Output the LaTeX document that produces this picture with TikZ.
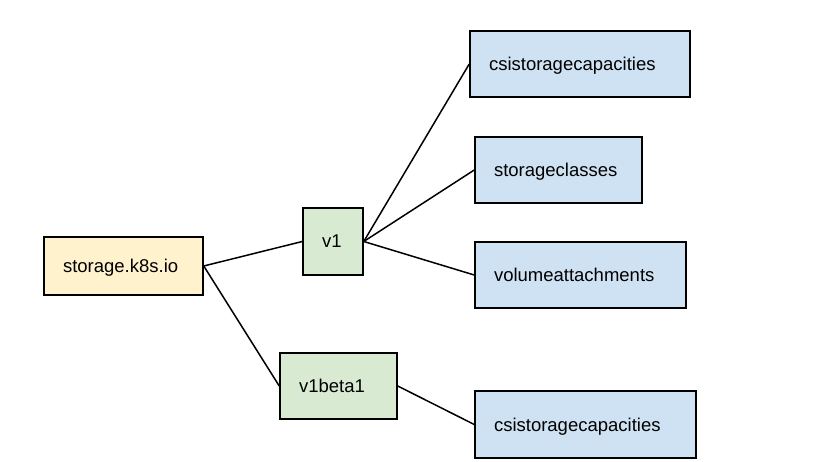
\documentclass[tikz,border=0pt]{standalone}
\usepackage{fontspec}
\setmainfont{Liberation Sans}
\usetikzlibrary{positioning}
\definecolor{grpyellow}{HTML}{FFF2CC}
\definecolor{vergreen}{HTML}{D9EAD3}
\definecolor{resblue}{HTML}{CFE2F3}
\tikzstyle{box}=[draw,rectangle,line width=1.5pt,inner xsep=19pt,inner ysep=0pt,align=left,
                text depth=0pt,font=\fontsize{18.5}{22}\selectfont]
\tikzstyle{grp}=[box,fill=grpyellow]
\tikzstyle{ver}=[box,fill=vergreen]
\tikzstyle{res}=[box,fill=resblue]
\tikzstyle{tree}=[every edge/.style={draw,line width=1.5pt}]
% #1 style, #2 name, #3 centre, #4 text width, #5 height, #6 label
\newcommand{\bx}[6]{\node[#1,text width=#4pt,minimum height=#5pt] (#2) at (#3) {#6};}

\begin{document}
\begin{tikzpicture}[x=1pt,y=-1pt,tree]
  \useasboundingbox (0,0) rectangle (837,462);

	\bx{grp}{api}{123.5,266}{121}{58}{storage.k8s.io};
	\bx{ver}{v1}{333,241.5}{22}{67}{v1};
	\bx{ver}{v1b}{338.5,386}{79}{66}{v1beta1};
	\bx{res}{csia}{580,64}{182}{66}{csistoragecapacities};
	\bx{res}{sc}{558.5,170}{129}{66}{storageclasses};
	\bx{res}{va}{580.5,275}{173}{66}{volumeattachments};
	\bx{res}{csib}{585.5,424.5}{183}{67}{csistoragecapacities};

	\path (api.east) edge (v1.west)
	      (api.east) edge (v1b.west)
	      (v1.east) edge (csia.west)
	      (v1.east) edge (sc.west)
	      (v1.east) edge (va.west)
	      (v1b.east) edge (csib.west);
\end{tikzpicture}
\end{document}
